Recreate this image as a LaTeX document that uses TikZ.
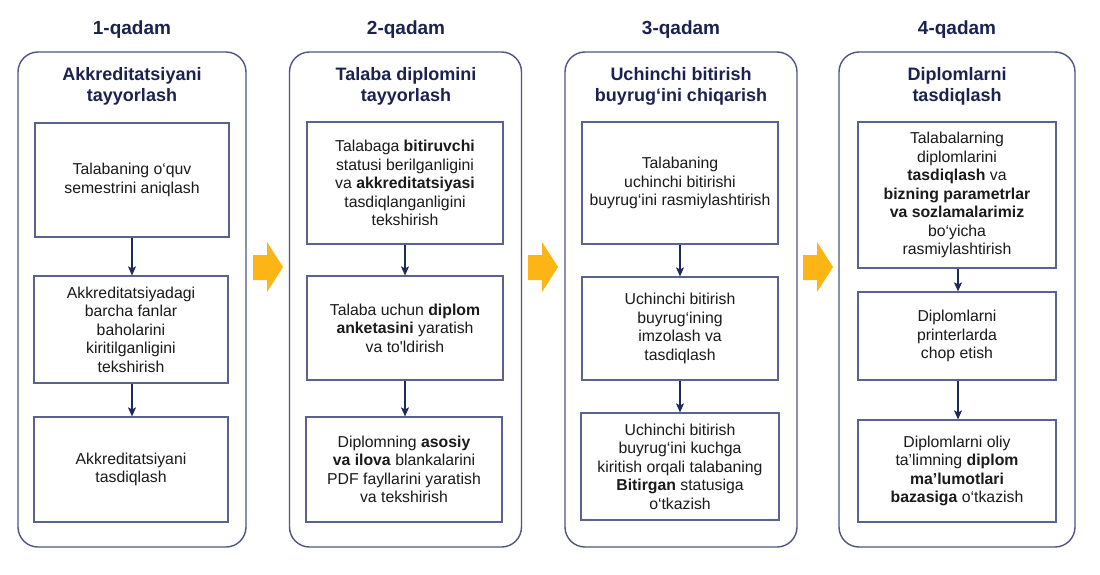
\documentclass[tikz,border=0pt]{standalone}
\usepackage{fontspec}
\setmainfont{Liberation Sans}
\usetikzlibrary{arrows.meta}
\definecolor{navy}{HTML}{1B2250}
\definecolor{framec}{HTML}{4D5685}
\definecolor{boxc}{HTML}{5A6390}
\definecolor{arrc}{HTML}{1F2A5C}
\definecolor{gold}{HTML}{FDB515}
\definecolor{txt}{HTML}{1A1A1A}
\begin{document}
\begin{tikzpicture}[x=1pt,y=-1pt,
  panel/.style={draw=framec, line width=1.4pt, rounded corners=20pt, inner sep=0pt},
  stepbox/.style={draw=boxc, line width=1.2pt, inner sep=0pt, align=center, text=txt,
     font=\fontsize{15.8}{18.5}\selectfont},
  ttl/.style={text=navy, font=\fontsize{19}{22}\selectfont\bfseries},
  hdr/.style={text=navy, align=center, font=\fontsize{18}{21}\selectfont\bfseries},
  flow/.style={draw=arrc, line width=1.2pt, -{Stealth[length=9pt,width=8pt,inset=2pt]}},
  yarrow/.style={fill=gold, draw=none}]
\useasboundingbox (0,0) rectangle (1100,575);
\fill[white] (0,0) rectangle (1100,575);

% ---------- panel 1 ----------
\node[panel, minimum width=228pt, minimum height=495pt] (p1) at (132,299.5) {};
\node[ttl] (t1) at (132,30) {1-qadam};
\node[hdr] (h1) at (132,86) {Akkreditatsiyani\\tayyorlash};
\node[stepbox, minimum width=194pt, minimum height=114pt] (a1) at (132,180) {Talabaning o‘quv\\semestrini aniqlash};
\node[stepbox, minimum width=194pt, minimum height=107pt] (a2) at (131,329.5) {Akkreditatsiyadagi\\barcha fanlar\\baholarini\\kiritilganligini\\tekshirish};
\node[stepbox, minimum width=194pt, minimum height=105pt] (a3) at (131,469.5) {Akkreditatsiyani\\tasdiqlash};
\draw[flow] (a1.south -| 132,0) -- (a2.north -| 132,0);
\draw[flow] (a2.south -| 132,0) -- (a3.north -| 132,0);

% ---------- panel 2 ----------
\node[panel, minimum width=232pt, minimum height=495pt] (p2) at (405.5,299.5) {};
\node[ttl] (t2) at (406,30) {2-qadam};
\node[hdr] (h2) at (406,86) {Talaba diplomini\\tayyorlash};
\node[stepbox, minimum width=196pt, minimum height=122pt] (b1) at (405,183) {Talabaga \textbf{bitiruvchi}\\statusi berilganligini\\va \textbf{akkreditatsiyasi}\\tasdiqlanganligini\\tekshirish};
\node[stepbox, minimum width=196pt, minimum height=104pt] (b2) at (405,328) {Talaba uchun \textbf{diplom}\\\textbf{anketasini} yaratish\\va to\textquotesingle ldirish};
\node[stepbox, minimum width=196pt, minimum height=105pt] (b3) at (404,469.5) {Diplomning \textbf{asosiy}\\\textbf{va ilova} blankalarini\\PDF fayllarini yaratish\\va tekshirish};
\draw[flow] (b1.south -| 405,0) -- (b2.north -| 405,0);
\draw[flow] (b2.south -| 405,0) -- (b3.north -| 405,0);

% ---------- panel 3 ----------
\node[panel, minimum width=232pt, minimum height=495pt] (p3) at (681,299.5) {};
\node[ttl] (t3) at (681,30) {3-qadam};
\node[hdr] (h3) at (681,86) {Uchinchi bitirish\\buyrug‘ini chiqarish};
\node[stepbox, minimum width=196pt, minimum height=122pt] (c1) at (680,183) {Talabaning\\uchinchi bitirishi\\buyrug‘ini rasmiylashtirish};
\node[stepbox, minimum width=196pt, minimum height=103pt] (c2) at (680,328.5) {Uchinchi bitirish\\buyrug‘ining\\imzolash va\\tasdiqlash};
\node[stepbox, minimum width=198pt, minimum height=107pt] (c3) at (680,466.5) {Uchinchi bitirish\\buyrug‘ini kuchga\\kiritish orqali talabaning\\\textbf{Bitirgan} statusiga\\o‘tkazish};
\draw[flow] (c1.south -| 680,0) -- (c2.north -| 680,0);
\draw[flow] (c2.south -| 680,0) -- (c3.north -| 680,0);

% ---------- panel 4 ----------
\node[panel, minimum width=236pt, minimum height=495pt] (p4) at (957,299.5) {};
\node[ttl] (t4) at (957,30) {4-qadam};
\node[hdr] (h4) at (957,86) {Diplomlarni\\tasdiqlash};
\node[stepbox, minimum width=198pt, minimum height=146pt] (d1) at (957,195) {Talabalarning\\diplomlarini\\\textbf{tasdiqlash} va\\\textbf{bizning parametrlar}\\\textbf{va sozlamalarimiz}\\bo‘yicha\\rasmiylashtirish};
\node[stepbox, minimum width=198pt, minimum height=88pt] (d2) at (957,336) {Diplomlarni\\printerlarda\\chop etish};
\node[stepbox, minimum width=198pt, minimum height=102pt] (d3) at (957,471) {Diplomlarni oliy\\ta’limning \textbf{diplom}\\\textbf{ma’lumotlari}\\\textbf{bazasiga} o‘tkazish};
\draw[flow] (d1.south -| 958,0) -- (d2.north -| 958,0);
\draw[flow] (d2.south -| 958,0) -- (d3.north -| 958,0);

% ---------- yellow arrows between panels ----------
\foreach \xo in {253,528,803}{
  \fill[yarrow] (\xo,255) -- ++(14,0) -- ++(0,-13) -- ++(16,25) -- ++(-16,25) -- ++(0,-12) -- ++(-14,0) -- cycle;
}
\end{tikzpicture}
\end{document}
